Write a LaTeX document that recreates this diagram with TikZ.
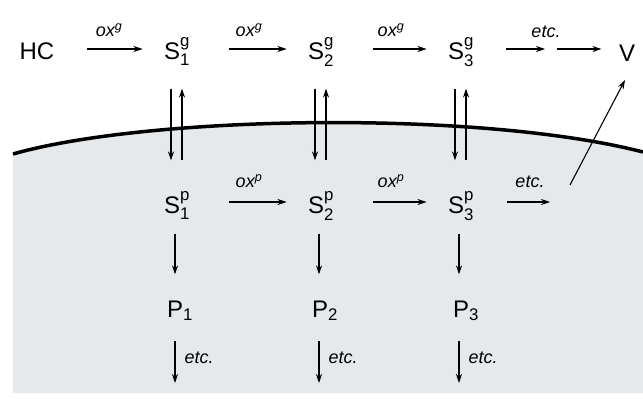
\documentclass[tikz,border=0pt]{standalone}
\usepackage{amsmath}
\usepackage{fontspec}
\setmainfont{Liberation Sans}
\usetikzlibrary{arrows.meta, positioning}
\definecolor{cellc}{HTML}{E6E9EC}

\newcommand{\spc}[3]{#1$^{\text{#2}}_{\text{#3}}$}

\begin{document}
\begin{tikzpicture}[x=1pt, y=-1pt, >={Stealth[length=9pt, width=6pt]}, line width=1.1pt,
    species/.style={inner sep=0pt, text height=17pt, text depth=7pt,
      font=\fontsize{24pt}{28pt}\selectfont},
    rate/.style={inner sep=0pt, text depth=0pt,
      font=\fontsize{18pt}{20pt}\selectfont\itshape},
    flow/.style={->, shorten <=39pt, shorten >=21pt}]
    \useasboundingbox (0,0) rectangle (643,399);
    % cell
    \fill[cellc] (13,154) .. controls (150,115) and (480,110) .. (643,152)
      -- (643,393) -- (13,393) -- cycle;
    \draw[line width=3.5pt] (13,154) .. controls (150,115) and (480,110) .. (643,152);
    % gas phase
    \node[species] (HC) at (37,54) {HC};
    \node[species] (Sg1) at (177,54) {\spc{S}{g}{1}};
    \node[species] (Sg2) at (321,54) {\spc{S}{g}{2}};
    \node[species] (Sg3) at (461,54) {\spc{S}{g}{3}};
    \node[species] (V) at (627,56) {V};
    % particle phase
    \node[species] (Sp1) at (177,208) {\spc{S}{p}{1}};
    \node[species] (Sp2) at (321,208) {\spc{S}{p}{2}};
    \node[species] (Sp3) at (461,208) {\spc{S}{p}{3}};
    \node[species] (P1) at (180,312) {P$_{\text{1}}$};
    \node[species] (P2) at (325,312) {P$_{\text{2}}$};
    \node[species] (P3) at (466,312) {P$_{\text{3}}$};
    % free ends
    \coordinate (gmid) at (551,49);
    \coordinate (pend) at (550,202);
    \coordinate (vout) at (570,185);
    \coordinate (vin) at (625,80);
    \coordinate (out1) at (175,383);
    \coordinate (out2) at (319,383);
    \coordinate (out3) at (459,383);
    % gas-phase oxidation
    \draw[flow, shorten <=32pt] ([yshift=5pt]HC.east) --
      node[rate, above=12pt] (oxg1) {ox$^{\text{g}}$} ([yshift=5pt]Sg1.west);
    \draw[flow] ([yshift=5pt]Sg1.east) --
      node[rate, above=12pt] (oxg2) {ox$^{\text{g}}$} ([yshift=5pt]Sg2.west);
    \draw[flow] ([yshift=5pt]Sg2.east) --
      node[rate, above=12pt] (oxg3) {ox$^{\text{g}}$} ([yshift=5pt]Sg3.west);
    \draw[->, shorten <=32pt, shorten >=6pt] ([yshift=5pt]Sg3.east) -- (gmid);
    \draw[->, shorten <=6pt, shorten >=17pt] (gmid) -- ([yshift=7pt]V.west);
    \node[rate, above=11pt] (etcg) at ([xshift=-5pt]gmid) {etc.};
    % partitioning
    \foreach \i in {1,2,3}{
      \draw[->, shorten <=22pt, shorten >=35pt]
        ([xshift=-6pt]Sg\i.south) -- ([xshift=-6pt]Sp\i.north);
      \draw[<-, shorten <=22pt, shorten >=35pt]
        ([xshift=5pt]Sg\i.south) -- ([xshift=5pt]Sp\i.north);
    }
    % particle-phase oxidation
    \draw[flow] ([yshift=6pt]Sp1.east) --
      node[rate, above=14pt] (oxp1) {ox$^{\text{p}}$} ([yshift=6pt]Sp2.west);
    \draw[flow] ([yshift=6pt]Sp2.east) --
      node[rate, above=14pt] (oxp2) {ox$^{\text{p}}$} ([yshift=6pt]Sp3.west);
    \draw[->, shorten <=33pt] ([yshift=6pt]Sp3.east) -- (pend);
    \node[rate, above=14pt] (etcp) at ([xshift=-20pt]pend) {etc.};
    \draw[->] (vout) -- (vin);
    % products
    \foreach \i in {1,2,3}{
      \draw[->, shorten <=13pt, shorten >=25pt]
        ([xshift=-2pt]Sp\i.south) -- ([xshift=-2pt]Sp\i.south |- P\i.north);
      \draw[->, shorten <=16pt] (out\i |- P\i.south) -- (out\i);
      \node[rate, anchor=west] (etc\i) at ([xshift=9pt, yshift=25pt]out\i) {etc.};
    }
\end{tikzpicture}
\end{document}
